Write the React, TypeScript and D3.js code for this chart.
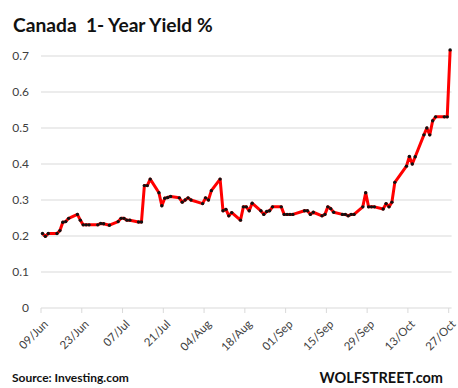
import React from 'react';
import * as d3 from 'd3';

// Canada 1-year yield, daily closes (2021), holidays skipped
const dates = [
  '2021-06-09', '2021-06-10', '2021-06-11',
  '2021-06-14', '2021-06-15', '2021-06-16', '2021-06-17', '2021-06-18',
  '2021-06-21', '2021-06-22', '2021-06-23', '2021-06-24', '2021-06-25',
  '2021-06-28', '2021-06-29', '2021-06-30', '2021-07-02',
  '2021-07-05', '2021-07-06', '2021-07-07', '2021-07-08', '2021-07-09',
  '2021-07-12', '2021-07-13', '2021-07-14', '2021-07-15', '2021-07-16',
  '2021-07-19', '2021-07-20', '2021-07-21', '2021-07-22', '2021-07-23',
  '2021-07-26', '2021-07-27', '2021-07-28', '2021-07-29', '2021-07-30',
  '2021-08-03', '2021-08-04', '2021-08-05', '2021-08-06',
  '2021-08-09', '2021-08-10', '2021-08-11', '2021-08-12', '2021-08-13',
  '2021-08-16', '2021-08-17', '2021-08-18', '2021-08-19', '2021-08-20',
  '2021-08-23', '2021-08-24', '2021-08-25', '2021-08-26', '2021-08-27',
  '2021-08-30', '2021-08-31', '2021-09-01', '2021-09-02', '2021-09-03',
  '2021-09-07', '2021-09-08', '2021-09-09', '2021-09-10',
  '2021-09-13', '2021-09-14', '2021-09-15', '2021-09-16', '2021-09-17',
  '2021-09-20', '2021-09-21', '2021-09-22', '2021-09-23', '2021-09-24',
  '2021-09-27', '2021-09-28', '2021-09-29', '2021-09-30', '2021-10-01',
  '2021-10-04', '2021-10-05', '2021-10-06', '2021-10-07', '2021-10-08',
  '2021-10-12', '2021-10-13', '2021-10-14', '2021-10-15',
  '2021-10-18', '2021-10-19', '2021-10-20', '2021-10-21', '2021-10-22',
  '2021-10-25', '2021-10-26', '2021-10-27',
];

const yields = [
  0.207, 0.199, 0.207,
  0.207, 0.215, 0.238, 0.240, 0.249,
  0.260, 0.244, 0.231, 0.231, 0.231,
  0.231, 0.235, 0.234, 0.230,
  0.240, 0.249, 0.249, 0.244, 0.244,
  0.239, 0.239, 0.340, 0.340, 0.358,
  0.320, 0.284, 0.305, 0.307, 0.310,
  0.306, 0.294, 0.300, 0.306, 0.300,
  0.290, 0.306, 0.300, 0.326,
  0.358, 0.270, 0.274, 0.256, 0.265,
  0.244, 0.281, 0.281, 0.270, 0.291,
  0.270, 0.260, 0.268, 0.270, 0.281,
  0.281, 0.260, 0.260, 0.260, 0.260,
  0.270, 0.270, 0.260, 0.266,
  0.256, 0.260, 0.281, 0.276, 0.266,
  0.260, 0.260, 0.256, 0.260, 0.260,
  0.281, 0.320, 0.281, 0.281, 0.281,
  0.275, 0.290, 0.281, 0.294, 0.349,
  0.394, 0.421, 0.400, 0.420,
  0.481, 0.500, 0.481, 0.520, 0.531,
  0.531, 0.531, 0.717,
];

const tickLabels = [
  '09/Jun', '23/Jun', '07/Jul', '21/Jul', '04/Aug', '18/Aug',
  '01/Sep', '15/Sep', '29/Sep', '13/Oct', '27/Oct',
];
const yTicks = [0, 0.1, 0.2, 0.3, 0.4, 0.5, 0.6, 0.7];

const W = 458;
const H = 388;
const font = 'Lato, "Open Sans", sans-serif';

const parse = d3.timeParse('%Y-%m-%d');

export default function App() {
  const start = parse(dates[0]) as Date;
  const end = d3.timeDay.offset(parse(dates[dates.length - 1]) as Date, 1);

  const x = d3.scaleTime().domain([start, end]).range([41, 451.6]);
  const y = d3.scaleLinear().domain([0, 0.7]).range([308, 56]);

  // points sit in the middle of their day
  const pts = dates.map((d, i) => ({
    x: x(d3.timeHour.offset(parse(d) as Date, 12)),
    y: y(yields[i]),
  }));
  const line = d3.line<{ x: number; y: number }>().x(p => p.x).y(p => p.y);

  const tickDates = tickLabels.map((_, i) => d3.timeDay.offset(start, 14 * i));

  return (
    <div style={{ position: 'absolute', left: 0, top: 0 }}>
      <svg width={W} height={H} style={{ display: 'block', background: '#fff' }}>
        <text x={13} y={32} fontFamily={font} fontWeight={700} fontSize={19.2} fill="#111">
          Canada{'\u00a0\u00a0'}1- Year Yield %
        </text>

        {yTicks.map(t => (
          <g key={t}>
            <line x1={41} x2={451.6} y1={y(t)} y2={y(t)} stroke="#d9d9d9" strokeWidth={1} />
            <text x={29} y={y(t)} dy="0.35em" textAnchor="end" fontFamily={font} fontSize={12} fill="#404040">
              {d3.format('~g')(t)}
            </text>
          </g>
        ))}

        {tickDates.map((d, i) => {
          const tx = x(d);
          return (
            <g key={i}>
              <line x1={tx} x2={tx} y1={308} y2={313} stroke="#d9d9d9" />
              <text
                transform={`translate(${tx + 5},${322}) rotate(-45)`}
                textAnchor="end"
                dy="0.35em"
                fontFamily={font}
                fontSize={11.5}
                fill="#404040"
              >
                {tickLabels[i]}
              </text>
            </g>
          );
        })}

        <path d={line(pts) || ''} fill="none" stroke="#ff0000" strokeWidth={3} strokeLinejoin="round" />
        {pts.map((p, i) => (
          <circle key={i} cx={p.x} cy={p.y} r={1.7} fill="#111" />
        ))}

        <text x={12} y={382} fontFamily={font} fontWeight={700} fontSize={12} fill="#111">
          Source: Investing.com
        </text>
        <text x={443} y={383} textAnchor="end" fontFamily={font} fontWeight={700} fontSize={14.5} fill="#111">
          WOLFSTREET.com
        </text>
      </svg>
    </div>
  );
}
